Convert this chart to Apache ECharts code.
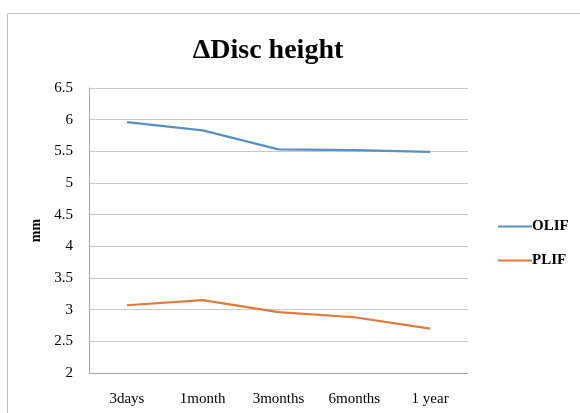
<!DOCTYPE html>
<html><head><meta charset="utf-8">
<script src="https://cdn.jsdelivr.net/npm/echarts@6/dist/echarts.min.js"></script>
<style>html,body{margin:0;padding:0;background:#fff}#c{width:580px;height:413px}</style>
</head><body><div id="c"></div>
<script>
var categories = ['3days', '1month', '3months', '6months', '1 year'];
var olif = [5.96, 5.83, 5.53, 5.52, 5.49];
var plif = [3.07, 3.15, 2.96, 2.88, 2.70];
var yTicks = [2, 2.5, 3, 3.5, 4, 4.5, 5, 5.5, 6, 6.5];

var font = '"Liberation Serif", "DejaVu Serif", serif';
var chart = echarts.init(document.getElementById('c'));
chart.setOption({
  animation: false,
  graphic: [{
    type: 'rect', shape: {x: 7.5, y: 13.5, width: 600, height: 420},
    style: {fill: 'none', stroke: '#bfbfbf', lineWidth: 1}, z: -1
  }],
  title: {
    text: 'ΔDisc height', left: 263, top: 32, textAlign: 'center',
    textStyle: {fontFamily: font, fontWeight: 'bold', fontSize: 28, color: '#000'}
  },
  legend: {
    orient: 'vertical', left: 493, top: 214, itemGap: 19,
    icon: 'rect', itemWidth: 34, itemHeight: 2,
    textStyle: {fontFamily: font, fontWeight: 'bold', fontSize: 15, color: '#000', padding: [0, 0, 0, -5]},
    data: ['OLIF', 'PLIF']
  },
  grid: {left: 89, top: 88, width: 379, height: 285, containLabel: false},
  xAxis: {
    type: 'category', data: categories, boundaryGap: true,
    axisLine: {lineStyle: {color: '#a6a6a6'}},
    axisTick: {show: false},
    axisLabel: {fontFamily: font, fontSize: 15, color: '#000', margin: 19}
  },
  yAxis: {
    type: 'value', min: 2, max: 6.5, interval: 0.5,
    name: 'mm', nameLocation: 'middle', nameRotate: 90, nameGap: 44,
    nameTextStyle: {fontFamily: font, fontWeight: 'bold', fontSize: 14, color: '#000'},
    axisLine: {show: true, lineStyle: {color: '#a6a6a6'}},
    axisTick: {show: false},
    axisLabel: {fontFamily: font, fontSize: 15, color: '#000', margin: 16,
      formatter: function (v) { return yTicks.indexOf(v) >= 0 ? String(v) : ''; }},
    splitLine: {lineStyle: {color: '#c8c8c8'}}
  },
  series: [
    {name: 'OLIF', type: 'line', data: olif, symbol: 'none',
     lineStyle: {width: 2.2, color: '#5b8fc4'}, itemStyle: {color: '#5b8fc4'}},
    {name: 'PLIF', type: 'line', data: plif, symbol: 'none',
     lineStyle: {width: 2.2, color: '#e07a3a'}, itemStyle: {color: '#e07a3a'}}
  ]
});
</script></body></html>
